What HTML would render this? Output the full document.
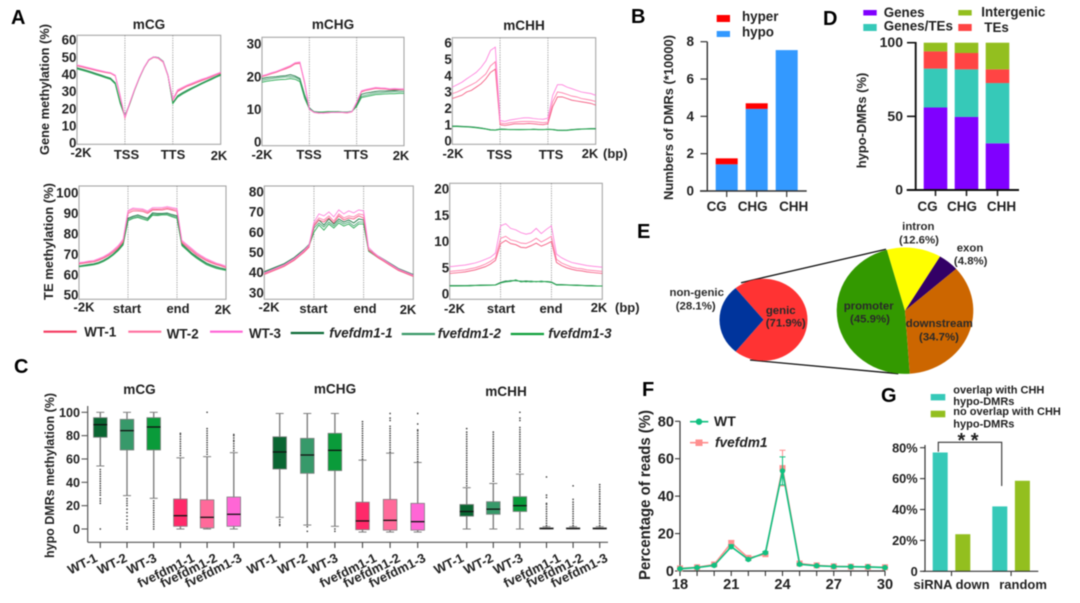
<!DOCTYPE html>
<html lang="en">
<head>
<meta charset="utf-8">
<title>DNA methylation multi-panel figure</title>
<style>
html,body{margin:0;padding:0;background:#fff;width:1080px;height:603px;overflow:hidden}
#figure{display:block;filter:blur(0.5px)}
#figure text{font-family:"Liberation Sans",sans-serif;font-weight:bold;fill:#222}
.letter{font-size:20px;fill:#000 !important}
.t13{font-size:13px}
.t14{font-size:13.6px}
.leg{font-size:13.4px}
.ital{font-style:italic}
.pie{font-size:11.4px;fill:#2a2a2a !important}
.glegend{font-size:11px}
.mid{text-anchor:middle}
</style>
</head>
<body>
<svg id="figure" width="1080" height="603" viewBox="0 0 1080 603" xmlns="http://www.w3.org/2000/svg">
<rect width="1080" height="603" fill="#fff"/>

<!-- Panel letters -->
<text class="letter" x="11" y="24">A</text>
<text class="letter" x="631" y="23">B</text>
<text class="letter" x="823" y="25">D</text>
<text class="letter" x="637" y="238">E</text>
<text class="letter" x="14" y="373">C</text>
<text class="letter" x="642" y="396">F</text>
<text class="letter" x="881" y="402">G</text>

<!-- Panel A titles and labels -->
<text class="t14 mid" x="149" y="29">mCG</text>
<text class="t14 mid" x="333" y="29">mCHG</text>
<text class="t14 mid" x="524" y="30">mCHH</text>
<text class="t13 mid" transform="translate(49,89.5) rotate(-90)" textLength="131" lengthAdjust="spacingAndGlyphs">Gene methylation (%)</text>
<text class="t13 mid" transform="translate(53,241.5) rotate(-90)" textLength="117" lengthAdjust="spacingAndGlyphs">TE methylation (%)</text>

<g>
<text class="t13 mid" x="81" y="157">-2K</text>
<text class="t13 mid" x="126.5" y="159">TSS</text>
<text class="t13 mid" x="173" y="159">TTS</text>
<text class="t13 mid" x="219" y="160">2K</text>
<text class="t13 mid" x="262" y="159">-2K</text>
<text class="t13 mid" x="309" y="159">TSS</text>
<text class="t13 mid" x="356" y="159">TTS</text>
<text class="t13 mid" x="401" y="160">2K</text>
<text class="t13 mid" x="453" y="158">-2K</text>
<text class="t13 mid" x="499.5" y="159">TSS</text>
<text class="t13 mid" x="551" y="159">TTS</text>
<text class="t13 mid" x="590" y="158">2K</text>
<text class="t13" x="603" y="158">(bp)</text>
</g>
<g>
<text class="t13 mid" x="84" y="311.5">-2K</text>
<text class="t13 mid" x="127" y="313">start</text>
<text class="t13 mid" x="178" y="313">end</text>
<text class="t13 mid" x="223" y="314">2K</text>
<text class="t13 mid" x="269" y="311.5">-2K</text>
<text class="t13 mid" x="313.5" y="313">start</text>
<text class="t13 mid" x="365" y="313">end</text>
<text class="t13 mid" x="408" y="314">2K</text>
<text class="t13 mid" x="454.5" y="313">-2K</text>
<text class="t13 mid" x="501" y="313">start</text>
<text class="t13 mid" x="551" y="313">end</text>
<text class="t13 mid" x="599" y="312">2K</text>
<text class="t13" x="615" y="312">(bp)</text>
</g>

<!-- Panel A legend -->
<g>
<line x1="43.5" y1="331.7" x2="76.7" y2="331.7" stroke="#f5395f" stroke-width="2.2"/>
<text class="leg" x="84.3" y="336.7">WT-1</text>
<line x1="128.3" y1="331.7" x2="161.3" y2="331.7" stroke="#ff6f9f" stroke-width="2.2"/>
<text class="leg" x="166.7" y="338.3">WT-2</text>
<line x1="210" y1="331.7" x2="242.7" y2="331.7" stroke="#ff62d6" stroke-width="2.2"/>
<text class="leg" x="249" y="338">WT-3</text>
<line x1="290.7" y1="333" x2="324" y2="333" stroke="#0d6b38" stroke-width="2.2"/>
<text class="leg ital" x="329.3" y="337.7">fvefdm1-1</text>
<line x1="401.7" y1="334" x2="435" y2="334" stroke="#3a9a68" stroke-width="2.2"/>
<text class="leg ital" x="437.7" y="338">fvefdm1-2</text>
<line x1="510.7" y1="334" x2="544" y2="334" stroke="#0fa03c" stroke-width="2.2"/>
<text class="leg ital" x="548.3" y="338">fvefdm1-3</text>
</g>

<!-- Panel B static -->
<g>
<rect x="716.7" y="15" width="13.3" height="7" fill="#ff0000"/>
<text class="leg" x="742" y="21">hyper</text>
<rect x="716.7" y="31" width="13.3" height="6" fill="#3399ff"/>
<text class="leg" x="742" y="36.7">hypo</text>
</g>
<text class="t13 mid" transform="translate(673,117.5) rotate(-90)" textLength="165" lengthAdjust="spacingAndGlyphs">Numbers of DMRs (*10000)</text>

<!-- Panel D static -->
<g>
<rect x="863.3" y="10" width="13.4" height="5.5" fill="#8000ff"/>
<text class="leg" x="883.7" y="17">Genes</text>
<rect x="863.3" y="24" width="13.4" height="7" fill="#36c9b8"/>
<text class="leg" x="883.7" y="30.7">Genes/TEs</text>
<rect x="958.3" y="10" width="13.4" height="5.5" fill="#93bf1f"/>
<text class="leg" x="981.3" y="16.3">Intergenic</text>
<rect x="958.3" y="24" width="13.4" height="7" fill="#ff4444"/>
<text class="leg" x="984.3" y="32">TEs</text>
</g>
<text class="t13 mid" transform="translate(866,120.5) rotate(-90)" textLength="95.6" lengthAdjust="spacingAndGlyphs">hypo-DMRs (%)</text>

<!-- Panel E static -->
<line x1="741" y1="282.7" x2="886" y2="249.3" stroke="#111" stroke-width="1.3"/>
<line x1="750" y1="360" x2="898.3" y2="373.7" stroke="#111" stroke-width="1.3"/>

<!-- Panel C static -->
<text class="t14 mid" x="139.5" y="394">mCG</text>
<text class="t14 mid" x="335" y="393.5">mCHG</text>
<text class="t14 mid" x="506" y="396">mCHH</text>
<text class="t13 mid" transform="translate(54,475.5) rotate(-90)" textLength="165" lengthAdjust="spacingAndGlyphs">hypo DMRs methylation (%)</text>

<!-- Panel F static -->
<text class="mid" style="font-size:15.5px" transform="translate(650,495) rotate(-90)" textLength="170" lengthAdjust="spacingAndGlyphs">Percentage of reads (%)</text>
<g>
<line x1="690" y1="421.7" x2="708.3" y2="421.7" stroke="#10c080" stroke-width="1.6"/>
<circle cx="699" cy="421.7" r="3.2" fill="#10c080"/>
<text x="714" y="426" style="font-size:14px">WT</text>
<line x1="690" y1="442.7" x2="708.3" y2="442.7" stroke="#ff8f8f" stroke-width="1.6"/>
<rect x="695.5" y="439.5" width="7" height="6.5" fill="#ff8f8f"/>
<text class="ital" x="715" y="447" style="font-size:13.7px">fvefdm1</text>
</g>

<!-- Panel G static -->
<g>
<rect x="930.7" y="394" width="14.6" height="6.4" fill="#36c9b8"/>
<text class="glegend" x="953.3" y="393.3">overlap with CHH</text>
<text class="glegend" x="953.3" y="405">hypo-DMRs</text>
<rect x="930.7" y="410.7" width="14.6" height="6.6" fill="#93bf1f"/>
<text class="glegend" x="953.3" y="415">no overlap with CHH</text>
<text class="glegend" x="953.3" y="427.7">hypo-DMRs</text>
</g>
<polyline points="938.3,451.7 938.3,442.3 1001.7,442.3 1001.7,486" fill="none" stroke="#333" stroke-width="1.1"/>
<text class="mid" x="968" y="447" style="font-size:20px">* *</text>
</svg>

<script>
// ===== Panel A: gene-body methylation (31 bins: upstream, body, downstream) =====
const geneCgWt1=[45,44.3,43.6,42.9,42.2,41.6,41,40.6,39,27,14.5,23,31,38,44,48.3,50,49.3,47,39,25,30,31.5,33,34,35.2,36.3,37.3,38.4,39.6,40.6];
const geneCgWt2=[45.3,44.6,43.9,43.2,42.6,41.9,41.3,40.9,39.3,27.5,15,23.3,31,38,44,48.5,50,49.5,47.2,39.2,25.3,30.6,32,33.4,34.5,35.7,36.8,37.7,38.9,39.9,41];
const geneCgWt3=[45.5,44.9,44.2,43.5,42.8,42.1,41.5,41,39.5,28,15.2,23.5,31.2,38.2,44.2,48.5,50.2,49.6,47.4,39.4,25.6,31,32.4,33.8,34.9,36,37.1,38,39.1,40.2,41.3];
const geneCgFve1=[43.8,43.1,42.3,41.4,40.5,39.6,38.7,37.8,35,24,16,23,31,38,44,48.5,50.2,49.8,47.6,39.5,23.5,27.5,29.3,30.8,32.2,33.5,34.9,36.2,37.5,38.8,40];
const geneCgFve2=[43.4,42.7,41.9,41,40.1,39.2,38.3,37.4,34.6,23.6,15.7,22.8,30.8,37.9,43.9,48.4,50.1,49.7,47.4,39.3,23.2,27,28.9,30.4,31.9,33.2,34.6,35.9,37.2,38.5,39.7];
const geneCgFve3=[43.1,42.4,41.6,40.7,39.8,38.9,38,37.1,34.3,23.2,15.4,22.6,30.6,37.7,43.8,48.3,50,49.6,47.2,39.1,22.9,26.6,28.5,30,31.5,32.9,34.3,35.6,36.9,38.2,39.4];

const geneChgWt1=[20,20.4,20.9,21.3,21.9,22.4,23,23.9,24.1,18,10,9.1,8.9,8.9,9,9,9.1,9,8.9,9.2,12,15.3,15.8,16.1,16.4,16.3,16.2,16,16.1,16,16];
const geneChgWt2=[20.1,20.5,21,21.5,22,22.6,23.2,24.1,24.3,18.2,10,9,8.8,8.9,8.9,9.1,9,9,8.9,9.2,12.1,15.5,15.9,16.2,16.5,16.4,16.3,16.1,16.2,16.1,16.1];
const geneChgWt3=[20.3,20.7,21.2,21.6,22.2,22.8,23.4,24.3,24.5,18.5,10.1,9.1,8.9,8.8,9,9,9.1,9.1,9,9.3,12.3,15.7,16.1,16.4,16.7,16.6,16.5,16.3,16.4,16.3,16.3];
const geneChgFve1=[19.4,19.7,19.9,20,20.2,20.3,20.6,20.2,19.4,14.5,10.5,9.2,9.1,9,9.2,9.2,9.1,9.2,9.1,9.4,11.5,14.6,15,15.2,15.5,15.6,15.6,15.7,15.8,15.9,16];
const geneChgFve2=[18.9,19.2,19.4,19.6,19.8,19.9,20,19.8,19,14,10.3,9.3,9.2,9.1,9.2,9.3,9.2,9.2,9.2,9.4,11.2,14,14.4,14.7,15,15.1,15.2,15.3,15.4,15.4,15.5];
const geneChgFve3=[18.3,18.6,18.8,19,19.1,19.2,19.4,19.2,18.5,13.4,10.1,9.2,9.1,9.2,9.3,9.2,9.3,9.2,9.1,9.3,10.9,13.6,13.9,14.2,14.5,14.6,14.7,14.8,14.8,14.9,14.9];

const geneChhWt1=[2.6,2.7,2.8,3,3.1,3.3,3.5,3.8,4.2,4.4,1,0.95,1,1.05,1.05,1.05,1.08,1.05,1.02,1,1.05,2.1,2.7,2.7,2.6,2.5,2.45,2.4,2.35,2.3,2.2];
const geneChhWt2=[2.9,3,3.15,3.3,3.45,3.6,3.85,4.1,4.6,4.85,1.1,1.05,1.12,1.15,1.18,1.2,1.2,1.18,1.15,1.12,1.15,2.4,3,2.95,2.85,2.75,2.7,2.6,2.55,2.5,2.42];
const geneChhWt3=[3.3,3.45,3.6,3.8,4,4.2,4.5,4.9,5.55,5.75,1.25,1.2,1.28,1.33,1.38,1.42,1.42,1.38,1.35,1.33,1.4,2.8,3.45,3.45,3.3,3.2,3.1,3,2.95,2.9,2.8];
const geneChhFve1=[0.92,0.91,0.9,0.89,0.87,0.84,0.8,0.75,0.69,0.68,0.73,0.72,0.7,0.71,0.7,0.71,0.7,0.72,0.71,0.7,0.72,0.71,0.67,0.66,0.67,0.7,0.72,0.74,0.75,0.76,0.76];
const geneChhFve2=[0.9,0.89,0.89,0.87,0.85,0.82,0.79,0.74,0.68,0.67,0.72,0.7,0.71,0.7,0.69,0.7,0.71,0.7,0.7,0.71,0.7,0.7,0.66,0.65,0.66,0.69,0.71,0.73,0.74,0.75,0.75];
const geneChhFve3=[0.88,0.88,0.87,0.86,0.84,0.81,0.77,0.73,0.67,0.66,0.71,0.71,0.69,0.69,0.7,0.69,0.7,0.71,0.69,0.69,0.71,0.69,0.65,0.64,0.65,0.68,0.7,0.72,0.73,0.74,0.74];

// ===== Panel A: TE methylation =====
const teCgWt1=[65.2,65.6,66,66.2,67,68,69.3,71,73,76,90,91.2,91.2,91,90,91.6,91.7,91.7,92.2,91.6,91,75.6,73.6,71.6,69.6,68.2,66.8,65.8,64.9,64.2,63.4];
const teCgWt2=[65.6,65.9,66.3,66.6,67.4,68.4,69.8,71.5,73.6,76.7,90.8,92,91.8,91.6,90.6,92.2,92.2,92.3,92.8,92.2,91.8,76.2,74.2,72.2,70.2,68.8,67.3,66.3,65.3,64.6,63.7];
const teCgWt3=[65.9,66.2,66.6,66.9,67.8,68.8,70.2,72,74.2,77.4,91.4,92.6,92.4,92.2,91.2,92.8,92.9,92.9,93.4,92.8,92.4,76.8,74.8,72.8,70.8,69.2,67.8,66.7,65.7,65,64.1];
const teCgFve1=[64.2,64.6,65,65.3,66,67,68.4,70.2,72.4,75.3,87.6,88.6,89.2,88.4,87.6,90.2,90,90,90.2,89.4,88.8,75,72.8,70.6,68.8,67.2,65.7,64.7,63.9,63.2,62.6];
const teCgFve2=[64,64.4,64.7,65,65.7,66.7,68.1,69.9,72,74.9,87,88,88.6,87.8,87,89.6,89.4,89.6,89.7,88.8,88.2,74.6,72.4,70.2,68.4,66.8,65.3,64.3,63.5,62.9,62.3];
const teCgFve3=[63.8,64.1,64.4,64.8,65.4,66.4,67.8,69.6,71.7,74.5,86.4,87.5,88,87.2,86.5,89.1,88.9,89.2,89.2,88.3,87.6,74.2,72,69.8,68,66.4,64.9,63.9,63.1,62.5,62];

const teChgWt1=[39,40,41,42,43,44.5,46,48,50,52.5,63,66,65,67,64.5,68,66,67,66.5,68,67,51,49,47.2,45.6,44,42.5,41,40,39,38];
const teChgWt2=[39.4,40.4,41.4,42.4,43.4,45,46.5,48.4,50.5,53,64,67,66,68,65.5,69,67,68,67.5,69,68.5,51.5,49.4,47.6,46,44.4,42.9,41.4,40.4,39.4,38.4];
const teChgWt3=[39.8,40.8,41.8,42.8,43.8,45.4,46.9,48.8,51,53.5,65,69,68,70,67.5,71,69,70.5,69.5,71,70.5,52.5,50,48,46.4,44.8,43.2,41.7,40.7,39.7,38.7];
const teChgFve1=[40.4,41.4,42.4,43.4,44.4,45.9,47.4,49.4,51.4,53.8,63,66,63.5,66.5,64,66.5,65,66,64.5,66.5,66,51.5,49.6,48,46.6,45,43.5,42,41,40,39];
const teChgFve2=[40,41,42,43,44,45.5,47,49,51,53.4,62,64.5,62.5,65,63,65.5,64,65,63,65,65,51,49.2,47.6,46.2,44.6,43.1,41.6,40.6,39.6,38.7];
const teChgFve3=[39.6,40.6,41.6,42.6,43.6,45.1,46.6,48.6,50.6,53,60,63.5,61,64,62,64.5,63,64,62,64,64,50.5,48.8,47.2,45.8,44.2,42.7,41.2,40.2,39.2,38.4];

const teChhWt1=[3.9,4,4.1,4.2,4.4,4.6,4.9,5.2,5.7,6.4,9.6,10.2,9.6,9.4,8.9,8.8,9.2,9.7,9.1,9.5,10,6,5.4,5,4.7,4.5,4.4,4.2,4.1,4,3.9];
const teChhWt2=[4.3,4.4,4.5,4.6,4.8,5,5.3,5.7,6.2,6.9,10.6,11,10.3,10.1,9.7,9.6,10,10.6,9.9,10.4,11,6.6,5.9,5.5,5.1,4.9,4.8,4.6,4.5,4.4,4.3];
const teChhWt3=[5.2,5.3,5.4,5.5,5.7,5.9,6.2,6.6,7,7.8,13,13.4,12.5,12.2,11.7,11.4,11.6,12.5,11.5,12.3,13,7.6,6.9,6.4,6,5.8,5.6,5.4,5.3,5.2,5.1];
const teChhFve1=[1.6,1.6,1.6,1.6,1.65,1.65,1.7,1.7,1.7,1.75,2.2,2.5,2.5,2.6,2.4,2.5,2.4,2.4,2.4,2.4,2.3,1.8,1.8,1.75,1.7,1.7,1.65,1.6,1.6,1.55,1.55];
const teChhFve2=[1.55,1.55,1.55,1.6,1.6,1.6,1.65,1.65,1.7,1.7,2.1,2.4,2.6,2.5,2.5,2.3,2.5,2.3,2.5,2.3,2.2,1.75,1.75,1.7,1.7,1.65,1.6,1.6,1.55,1.55,1.5];
const teChhFve3=[1.5,1.5,1.55,1.55,1.55,1.6,1.6,1.65,1.65,1.7,2.1,2.3,2.4,2.7,2.3,2.4,2.3,2.4,2.3,2.4,2.2,1.7,1.7,1.7,1.65,1.6,1.6,1.55,1.55,1.5,1.5];

const tickGeneCg=[0,10,20,30,40,50,60];
const tickGeneChg=[0,10,20,30];
const tickGeneChh=[0,1,2,3,4,5,6];
const tickTeCg=[50,60,70,80,90,100];
const tickTeChg=[30,40,50,60,70,80];
const tickTeChh=[0,5,10,15,20];

// ===== Panel B =====
const dmrCategories=['CG','CHG','CHH'];
const dmrHypo=[1.43,4.4,7.55];
const dmrHyper=[0.32,0.3,0];
const dmrTicks=[0,2,4,6,8];

// ===== Panel D =====
const regionCategories=['CG','CHG','CHH'];
const regionGenes=[56,49.6,31.7];
const regionGenesTes=[26.4,32.3,40.9];
const regionTes=[11.7,11.1,9.3];
const regionIntergenic=[5.9,7,18.1];
const regionTicks=[0,50,100];

// ===== Panel E =====
const smallPieLabels=['genic','non-genic'];
const smallPieValues=[71.9,28.1];
const bigPieLabels=['promoter','intron','exon','downstream'];
const bigPieValues=[45.9,12.6,4.8,34.7];

// ===== Panel C =====
const boxCategories=['WT-1','WT-2','WT-3','fvefdm1-1','fvefdm1-2','fvefdm1-3'];
const boxTicks=[0,20,40,60,80,100];
const cgQ3=[95.4,94,95.4,25.7,25,27.4];
const cgMedian=[89.4,84.3,87.4,11.4,10,12.6];
const cgQ1=[78.6,67.7,67.7,2.3,0.9,2.3];
const cgHigh=[100,100,100,61,62,65.4];
const cgLow=[54,28.6,26.3,0,0,0];
const cgOutliers=[
 [51,49,47,45,43,41,39,37,35,33,31,29,26,24,22,0],
 [26,24,22,20,17,14,11,8,5,2,0],
 [24,22,20,18,16,14,12,10,8,6,4,2,0],
 [63,65,67,69,71,73,75,77,79,81,82],
 [64,66,68,70,72,74,76,78,80,82,84,86,100],
 [67,69,71,73,75,76,78,80,81]
];
const chgQ3=[79,77.7,82,23,25.4,22];
const chgMedian=[66,63.4,67.4,6.9,7.4,6.3];
const chgQ1=[51.4,47.7,50,-0.6,-1,-1];
const chgHigh=[99,99,99,59,65,57];
const chgLow=[10,3.4,2.3,-2.6,-2.6,-2.6];
const chgOutliers=[
 [8,6,4,3],
 [2,-2],
 [0,-2],
 [60,62,64,66,68,70,72,74,76,78,80,82,84,86,88,90,92],
 [66,68,70,72,74,76,78,80,82,84,86,88,93,95,99],
 [58,60,62,64,66,68,70,72,74,76,78,80,82,84,85,90,99]
];
const chhQ3=[21,23.4,27.7,1,1,1];
const chhMedian=[15,17,20,0.4,0.4,0.4];
const chhQ1=[11,12.6,15,0,0,0];
const chhHigh=[35.4,39,47,2,2,2];
const chhLow=[0,0,0,0,0,0];
const chhOutliers=[
 [37,39,41,43,45,47,49,51,53,55,57,59,61,63,65,67,69,71,73,75,77,79,81,83,86],
 [41,43,45,47,49,51,53,55,57,59,61,63,65,67,69,71,73,75,77,79,81,83],
 [49,51,53,55,57,59,61,63,65,67,69,71,73,75,77,79,81,83,85,87,93,95,100],
 [3,5,7,9,11,13,15,17,19,21,22,27,29,44.6],
 [3,5,7,9,11,13,15,17,19,21,23,25.4,37],
 [3,5,7,9,11,13,15,17,19,21,22,24,26,28,30,32,34,36,38]
];

// ===== Panel F =====
const lengthCategories=[18,19,20,21,22,23,24,25,26,27,28,29,30];
const lengthWt=[1.2,1.8,3,13,6.2,9.8,53.5,3.6,2.8,2.4,2.3,2.2,1.8];
const lengthFve=[1.4,2,3.5,15,7,9,55,4,3,2.5,2.3,2.2,2];
const lengthWtErr=[0.3,0.3,0.4,1,0.5,0.6,7.5,0.4,0.3,0.2,0.2,0.2,0.2];
const lengthFveErr=[0.3,0.3,0.4,1.2,0.6,0.7,9.5,0.4,0.3,0.2,0.2,0.2,0.2];
const lengthXTicks=[18,21,24,27,30];
const lengthYTicks=[0,20,40,60,80];

// ===== Panel G =====
const siRnaCategories=['siRNA down','random'];
const siRnaOverlap=[76.9,42];
const siRnaNoOverlap=[24,58.6];
const siRnaTicks=[0,20,40,60,80];

// ===== Helpers =====
const SVG_NS='http://www.w3.org/2000/svg';
const figure=document.getElementById('figure');
function make(tag,attrs,parent,text){
  const el=document.createElementNS(SVG_NS,tag);
  for(const k in attrs){el.setAttribute(k,attrs[k]);}
  if(text!==undefined){el.textContent=text;}
  (parent||figure).appendChild(el);
  return el;
}
function linear(d0,d1,r0,r1){return function(v){return r0+(v-d0)*(r1-r0)/(d1-d0);};}
function group(name){
  const g=make('g',{});
  
  
  return g;
}
function yTicks(g,values,y,right,size,fmt,dy){
  values.forEach(function(v){
    const t=make('text',{x:right,y:y(v)+dy,'text-anchor':'end',style:'font-size:'+size+'px'},g,fmt?fmt(v):String(v));
    
    
  });
}
function axisLine(g,x1,y1,x2,y2,color,w,name){
  const l=make('line',{x1:x1,y1:y1,x2:x2,y2:y2,stroke:color,'stroke-width':w},g);
  
  
}

// ===== Panel A drawing =====
const lineColors=['#f4557c','#ff7aa8','#ff7fdc','#17733f','#47a473','#22a64c'];
const lineSeriesNames=['wt-1','wt-2','wt-3','fvefdm1-1','fvefdm1-2','fvefdm1-3'];
function drawLinePanel(p){
  const g=group(p.name);
  const y=linear(p.v0,p.v1,p.y0,p.y1);
  const x=linear(0,p.series[0].length-1,p.left,p.right);
  const frame=make('rect',{x:p.left,y:p.top,width:p.right-p.left,height:p.bottom-p.top,fill:'#fff',stroke:'#a6a6a6','stroke-width':1.1},g);
  
  
  [10,20].forEach(function(b){
    const d=make('line',{x1:x(b),x2:x(b),y1:p.top,y2:p.bottom,stroke:'#8a8a8a','stroke-width':0.8,'stroke-dasharray':'1.2 1.2'},g);
    
    
  });
  [3,4,5,0,1,2].forEach(function(i){
    const points=p.series[i].map(function(v,k){return x(k).toFixed(1)+','+y(v).toFixed(1);}).join(' ');
    const line=make('polyline',{points:points,fill:'none',stroke:lineColors[i],'stroke-width':0.85},g);
    
    
  });
  yTicks(g,p.ticks,y,p.left-0.5,13.4,null,4.7);
}
[
 {name:'chart-gene-mcg',left:77,right:220.7,top:35.3,bottom:144.3,v0:0,y0:143,v1:60,y1:40,ticks:tickGeneCg,series:[geneCgWt1,geneCgWt2,geneCgWt3,geneCgFve1,geneCgFve2,geneCgFve3]},
 {name:'chart-gene-mchg',left:262,right:404,top:37.3,bottom:145.7,v0:0,y0:142,v1:30,y1:44,ticks:tickGeneChg,series:[geneChgWt1,geneChgWt2,geneChgWt3,geneChgFve1,geneChgFve2,geneChgFve3]},
 {name:'chart-gene-mchh',left:452.3,right:595.7,top:37.7,bottom:144.3,v0:0,y0:141,v1:6,y1:43,ticks:tickGeneChh,series:[geneChhWt1,geneChhWt2,geneChhWt3,geneChhFve1,geneChhFve2,geneChhFve3]},
 {name:'chart-te-mcg',left:79,right:226,top:186,bottom:299.3,v0:50,y0:295,v1:100,y1:193,ticks:tickTeCg,series:[teCgWt1,teCgWt2,teCgWt3,teCgFve1,teCgFve2,teCgFve3]},
 {name:'chart-te-mchg',left:264.3,right:413.3,top:186,bottom:299.3,v0:30,y0:292.7,v1:80,y1:191.7,ticks:tickTeChg,series:[teChgWt1,teChgWt2,teChgWt3,teChgFve1,teChgFve2,teChgFve3]},
 {name:'chart-te-mchh',left:449.7,right:602.3,top:183.3,bottom:299.3,v0:0,y0:294,v1:20,y1:189,ticks:tickTeChh,series:[teChhWt1,teChhWt2,teChhWt3,teChhFve1,teChhFve2,teChhFve3]}
].forEach(drawLinePanel);

// ===== Panel B drawing =====
(function(){
  const g=group('chart-dmr-counts');
  const y=linear(0,8,191,41.7);
  const x=function(i){return 726.7+30*i;};
  dmrCategories.forEach(function(c,i){
    const lo=make('rect',{x:x(i)-11,width:22,y:y(dmrHypo[i]),height:y(0)-y(dmrHypo[i]),fill:'#3399ff'},g);
    
    
    const top=dmrHypo[i]+dmrHyper[i];
    const hi=make('rect',{x:x(i)-11,width:22,y:y(top),height:y(dmrHypo[i])-y(top),fill:'#ff0000'},g);
    
    
    axisLine(g,x(i),191,x(i),197,'#333',1.2,'x-tick');
    const t=make('text',{x:x(i)+[-10,-4,7][i],y:211,'text-anchor':'middle',style:'font-size:13.5px'},g,c);
    
    
  });
  axisLine(g,707.3,41.7,707.3,191,'#333',1.4,'y-axis');
  axisLine(g,700,191,806.7,191,'#333',1.4,'x-axis');
  dmrTicks.forEach(function(v){axisLine(g,700.5,y(v),707.3,y(v),'#333',1.2,'y-tick');});
  yTicks(g,dmrTicks,y,694,13.5,null,4.5);
})();

// ===== Panel D drawing =====
(function(){
  const g=group('chart-region-share');
  const y=linear(0,100,190,42.7);
  const x=function(i){return 935.5+31*i;};
  const layers=[[regionGenes,'#8000ff','genes'],[regionGenesTes,'#36c9b8','genes-tes'],[regionTes,'#ff4444','tes'],[regionIntergenic,'#93bf1f','intergenic']];
  regionCategories.forEach(function(c,i){
    let base=0;
    layers.forEach(function(l){
      const v=l[0][i];
      const r=make('rect',{x:x(i)-11.8,width:23.6,y:y(base+v),height:y(base)-y(base+v),fill:l[1]},g);
      
      
      base+=v;
    });
    axisLine(g,x(i),190,x(i),196,'#222',1.6,'x-tick');
    const t=make('text',{x:x(i)+[-8,-4.5,4][i],y:211,'text-anchor':'middle',style:'font-size:13.5px'},g,c);
    
    
  });
  axisLine(g,915.7,42,915.7,190,'#111',1.9,'y-axis');
  axisLine(g,906.7,190,1019,190,'#111',1.9,'x-axis');
  regionTicks.forEach(function(v){axisLine(g,907,y(v),915.7,y(v),'#111',1.6,'y-tick');});
  yTicks(g,regionTicks,y,903,14,null,4.5);
})();

// ===== Panel E drawing =====
const bigPieColors=['#339900','#ffff00','#330066','#cc6600'];
const smallPieColors=['#ff3333','#00349c'];
function drawPie(values,labels,colors,cx,cy,rx,ry,startDeg,name){
  const g=group(name);
  const total=values.reduce(function(a,b){return a+b;},0);
  let a=startDeg;
  values.forEach(function(v,i){
    const span=v/total*360;
    const a0=a*Math.PI/180, a1=(a+span)*Math.PI/180;
    const d='M'+cx+','+cy+'L'+(cx+rx*Math.sin(a0)).toFixed(2)+','+(cy-ry*Math.cos(a0)).toFixed(2)+
      'A'+rx+','+ry+' 0 '+(span>180?1:0)+' 1 '+(cx+rx*Math.sin(a1)).toFixed(2)+','+(cy-ry*Math.cos(a1)).toFixed(2)+'Z';
    const s=make('path',{d:d,fill:colors[i]},g);
    
    
    a+=span;
  });
}
drawPie(smallPieValues,smallPieLabels,smallPieColors,763.5,319.8,44,41,-39.5,'pie-genic');
drawPie(bigPieValues,bigPieLabels,bigPieColors,905,310.7,68.3,63.2,176,'pie-genic-breakdown');
(function(){
  const g=group('pie-labels');
  const labels=[['non-genic',696.7,296],['(28.1%)',695.7,309.3],['genic',780.7,314],['(71.9%)',785.7,326.7],['intron',918.3,230],['(12.6%)',919,243.3],['exon',970,251.3],['(4.8%)',970.7,264.3],['promoter',868.7,309.3],['(45.9%)',870,322.7],['downstream',939.3,327],['(34.7%)',939,340.7]];
  labels.forEach(function(l){
    const t=make('text',{x:l[1],y:l[2],'class':'pie mid'},g,l[0]);
    
    
  });
})();

// ===== Panel C drawing =====
const boxColors=['#0a6632','#37996a','#0a9b3a','#ff2a6a','#ff6a9a','#ff66d6'];
const boxLabelOffset=[-2,1,4,15,11,9];
const boxY=linear(0,100,529,412.3);
function drawBoxGroup(name,origin,step,q3,med,q1,high,low,outliers){
  const g=group(name);
  boxCategories.forEach(function(c,i){
    const cx=origin+step*i;
    const y=boxY;
    const wh=make('line',{x1:cx,x2:cx,y1:y(high[i]),y2:y(low[i]),stroke:'#7f7f7f','stroke-width':1.4},g);
    
    
    [high[i],low[i]].forEach(function(v){
      const cap=make('line',{x1:cx-4,x2:cx+4,y1:y(v),y2:y(v),stroke:'#7f7f7f','stroke-width':1},g);
      
      
    });
    outliers[i].forEach(function(v){
      const o=make('circle',{cx:cx,cy:y(v),r:0.85,fill:'#444'},g);
      
      
    });
    const b=make('rect',{x:cx-6.8,width:13.6,y:y(q3[i]),height:y(q1[i])-y(q3[i]),fill:boxColors[i],stroke:'#808080','stroke-width':0.8},g);
    
    
    const m=make('line',{x1:cx-6.8,x2:cx+6.8,y1:y(med[i]),y2:y(med[i]),stroke:'#111','stroke-width':1.3},g);
    
    
    axisLine(g,cx,542.3,cx,548,'#444',1.1,'x-tick');
    const lx=cx+boxLabelOffset[i], ly=561;
    const t=make('text',{x:lx,y:ly,'text-anchor':'end',transform:'rotate(-26 '+lx+' '+ly+')',style:'font-size:13px'},g,c);
    
    
  });
}
(function(){
  const g=group('box-axes');
  axisLine(g,87.7,406,87.7,542.3,'#555',1.2,'y-axis');
  axisLine(g,87.7,542.3,608,542.3,'#555',1.2,'x-axis');
  boxTicks.forEach(function(v){axisLine(g,81.5,boxY(v),87.7,boxY(v),'#555',1.1,'y-tick');});
  yTicks(g,boxTicks,boxY,80,12.6,null,4.5);
})();
drawBoxGroup('boxes-mcg',100.3,26.7,cgQ3,cgMedian,cgQ1,cgHigh,cgLow,cgOutliers);
drawBoxGroup('boxes-mchg',279.7,27.6,chgQ3,chgMedian,chgQ1,chgHigh,chgLow,chgOutliers);
drawBoxGroup('boxes-mchh',466.7,26.6,chhQ3,chhMedian,chhQ1,chhHigh,chhLow,chhOutliers);

// ===== Panel F drawing =====
(function(){
  const g=group('chart-read-length');
  const x=linear(18,30,680,885);
  const y=linear(0,80,571,421.3);
  axisLine(g,680,421.3,680,571,'#333',1.2,'y-axis');
  axisLine(g,680,571,885,571,'#333',1.2,'x-axis');
  lengthYTicks.forEach(function(v){axisLine(g,675,y(v),680,y(v),'#333',1.1,'y-tick');});
  lengthCategories.forEach(function(c){axisLine(g,x(c),571,x(c),576,'#333',1.1,'x-tick');});
  yTicks(g,lengthYTicks,y,674,14.6,null,5);
  lengthXTicks.forEach(function(c){
    const t=make('text',{x:x(c),y:589,'text-anchor':'middle',style:'font-size:14.6px'},g,String(c));
    
    
  });
  function series(values,errs,color,name,square){
    values.forEach(function(v,i){
      const e=make('path',{d:'M'+(x(lengthCategories[i])-3)+','+y(v+errs[i])+'h6M'+x(lengthCategories[i])+','+y(v+errs[i])+'V'+y(v-errs[i])+'M'+(x(lengthCategories[i])-3)+','+y(v-errs[i])+'h6',fill:'none',stroke:color,'stroke-width':1},g);
      
      
    });
    const pts=values.map(function(v,i){return x(lengthCategories[i]).toFixed(1)+','+y(v).toFixed(1);}).join(' ');
    const l=make('polyline',{points:pts,fill:'none',stroke:color,'stroke-width':1.6},g);
    
    
    values.forEach(function(v,i){
      const px=x(lengthCategories[i]), py=y(v);
      const m=square?make('rect',{x:px-3,y:py-3,width:6,height:6,fill:color},g):make('circle',{cx:px,cy:py,r:2.7,fill:color},g);
      
      
    });
  }
  series(lengthFve,lengthFveErr,'#ff8f8f','fvefdm1',true);
  series(lengthWt,lengthWtErr,'#10c080','wt',false);
})();

// ===== Panel G drawing =====
(function(){
  const g=group('chart-sirna-overlap');
  const y=linear(0,80,571.3,447.7);
  const x=function(i){return 951.5+59.6*i;};
  siRnaCategories.forEach(function(c,i){
    const a=make('rect',{x:x(i)-18.8,width:15,y:y(siRnaOverlap[i]),height:y(0)-y(siRnaOverlap[i]),fill:'#36c9b8'},g);
    
    
    const b=make('rect',{x:x(i)+3.8,width:15,y:y(siRnaNoOverlap[i]),height:y(0)-y(siRnaNoOverlap[i]),fill:'#93bf1f'},g);
    
    
    axisLine(g,x(i),571.3,x(i),576,'#333',1.1,'x-tick');
    const t=make('text',{x:i===0?x(i):x(i)+12,y:589,'text-anchor':'middle',style:'font-size:13px'},g,c);
    
    
  });
  axisLine(g,925,445,925,571.3,'#333',1.2,'y-axis');
  axisLine(g,923,571.3,1038.3,571.3,'#333',1.2,'x-axis');
  siRnaTicks.forEach(function(v){axisLine(g,920,y(v),925,y(v),'#333',1.1,'y-tick');});
  yTicks(g,siRnaTicks,y,917.7,12.8,function(v){return v===0?'0':v+'%';},4.6);
})();
</script>
</body>
</html>
